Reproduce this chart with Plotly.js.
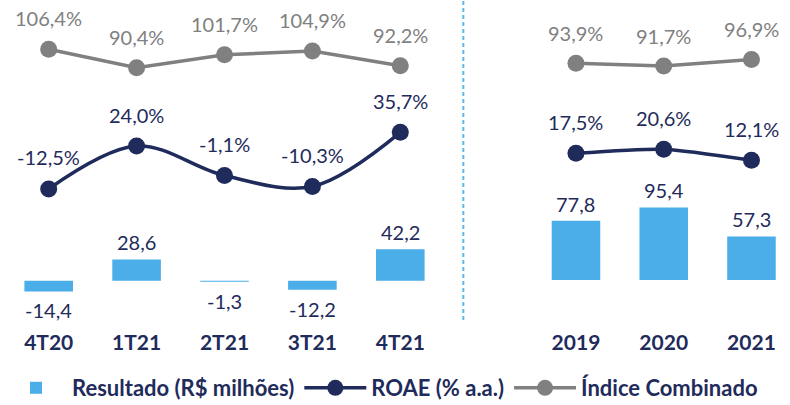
<!DOCTYPE html>
<html><head><meta charset="utf-8">
<script src="https://cdn.plot.ly/plotly-3.0.1.min.js"></script>
<style>html,body{margin:0;padding:0;background:#fff}</style>
</head><body><div id="chart" style="width:790px;height:405px"></div>
<script>
const quarters = ['4T20','1T21','2T21','3T21','4T21'];
const qResultado = [-14.4, 28.6, -1.3, -12.2, 42.2];
const qROAE = [-12.5, 24.0, -1.1, -10.3, 35.7];
const qIndice = [106.4, 90.4, 101.7, 104.9, 92.2];
const years = ['2019','2020','2021'];
const yResultado = [77.8, 95.4, 57.3];
const yROAE = [17.5, 20.6, 12.1];
const yIndice = [93.9, 91.7, 96.9];

const NAVY = '#1F2B5B', GRAY = '#808080', BLUE = '#4BAEE8';
const FONT = 'Lato, "Open Sans", sans-serif';
const fmt = (v, pct) => v.toFixed(1).replace('.', ',') + (pct ? '%' : '');

const traces = [
  {type:'bar', name:'Resultado (R$ milhões)', x:quarters, y:qResultado, xaxis:'x', yaxis:'y',
   marker:{color:BLUE}, width:0.553, hoverinfo:'skip'},
  {type:'scatter', mode:'lines+markers', name:'ROAE (% a.a.)', x:quarters, y:qROAE, xaxis:'x', yaxis:'y2',
   line:{color:NAVY, width:3.5, shape:'spline', smoothing:1}, marker:{color:NAVY, size:17}, hoverinfo:'skip'},
  {type:'scatter', mode:'lines+markers', name:'Índice Combinado', x:quarters, y:qIndice, xaxis:'x', yaxis:'y3',
   line:{color:GRAY, width:3.5}, marker:{color:GRAY, size:17}, hoverinfo:'skip'},
  {type:'bar', name:'Resultado (R$ milhões)', x:years, y:yResultado, xaxis:'x2', yaxis:'y4',
   marker:{color:BLUE}, width:0.553, showlegend:false, hoverinfo:'skip'},
  {type:'scatter', mode:'lines+markers', name:'ROAE (% a.a.)', x:years, y:yROAE, xaxis:'x2', yaxis:'y5',
   line:{color:NAVY, width:3.5, shape:'spline', smoothing:0.6}, marker:{color:NAVY, size:17}, showlegend:false, hoverinfo:'skip'},
  {type:'scatter', mode:'lines+markers', name:'Índice Combinado', x:years, y:yIndice, xaxis:'x2', yaxis:'y6',
   line:{color:GRAY, width:3.5}, marker:{color:GRAY, size:17}, showlegend:false, hoverinfo:'skip'}
];

const annotations = [];
function addLabels(xs, vals, xref, yref, pct, color, shiftPos, shiftNeg) {
  xs.forEach((c, i) => {
    const v = vals[i];
    annotations.push({x:i, y:v, xref:xref, yref:yref, text:fmt(v, pct), showarrow:false,
      yanchor:'middle', xanchor:'center', yshift: v >= 0 || shiftNeg === undefined ? shiftPos : shiftNeg,
      font:{family:FONT, size:20, color:color}});
  });
}
addLabels(quarters, qResultado, 'x', 'y', false, NAVY, 17, -19);
addLabels(quarters, qROAE, 'x', 'y2', true, NAVY, 31.5);
addLabels(quarters, qIndice, 'x', 'y3', true, GRAY, 31);
addLabels(years, yResultado, 'x2', 'y4', false, NAVY, 17, -19);
addLabels(years, yROAE, 'x2', 'y5', true, NAVY, 31.5);
addLabels(years, yIndice, 'x2', 'y6', true, GRAY, 30.5);

const hidden = {visible:false, fixedrange:true, domain:[0,1]};
const xcommon = {type:'category', showgrid:false, zeroline:false, showline:false, ticks:'',
  tickfont:{family:FONT, size:21, color:NAVY, weight:'bold'}, anchor:'free', position:0.19, fixedrange:true};

const layout = {
  width:790, height:405, margin:{l:0, r:0, t:0, b:0, autoexpand:false},
  paper_bgcolor:'#fff', plot_bgcolor:'rgba(0,0,0,0)',
  showlegend:true,
  legend:{orientation:'h', x:0, y:0.042, xanchor:'left', yanchor:'middle',
    font:{family:FONT, size:22, color:NAVY, weight:'bold'}, traceorder:'normal',
    itemwidth:62, bgcolor:'rgba(0,0,0,0)'},
  xaxis:Object.assign({}, xcommon, {domain:[0.00601, 0.56234], range:[-0.5, 4.5]}),
  xaxis2:Object.assign({}, xcommon, {domain:[0.67354, 1], range:[-0.5, 2.439]}),
  yaxis:Object.assign({}, hidden, {anchor:'x', range:[-166.8, 376.8]}),
  yaxis2:Object.assign({}, hidden, {anchor:'x', overlaying:'y', range:[-196.2, 148.2]}),
  yaxis3:Object.assign({}, hidden, {anchor:'x', overlaying:'y', range:[-202.9, 149.3]}),
  yaxis4:Object.assign({}, hidden, {anchor:'x2', range:[-164.5, 368.4]}),
  yaxis5:Object.assign({}, hidden, {anchor:'x2', overlaying:'y4', range:[-176.1, 135.4]}),
  yaxis6:Object.assign({}, hidden, {anchor:'x2', overlaying:'y4', range:[-179.5, 144.5]}),
  annotations:annotations,
  shapes:[{type:'line', xref:'paper', yref:'paper', x0:0.5865, x1:0.5865, y0:0.21, y1:1,
    line:{color:'#5BB8EC', width:2, dash:'4px,3px'}}]
};

Plotly.newPlot('chart', traces, layout, {displayModeBar:false, staticPlot:true});
</script>
</body></html>
